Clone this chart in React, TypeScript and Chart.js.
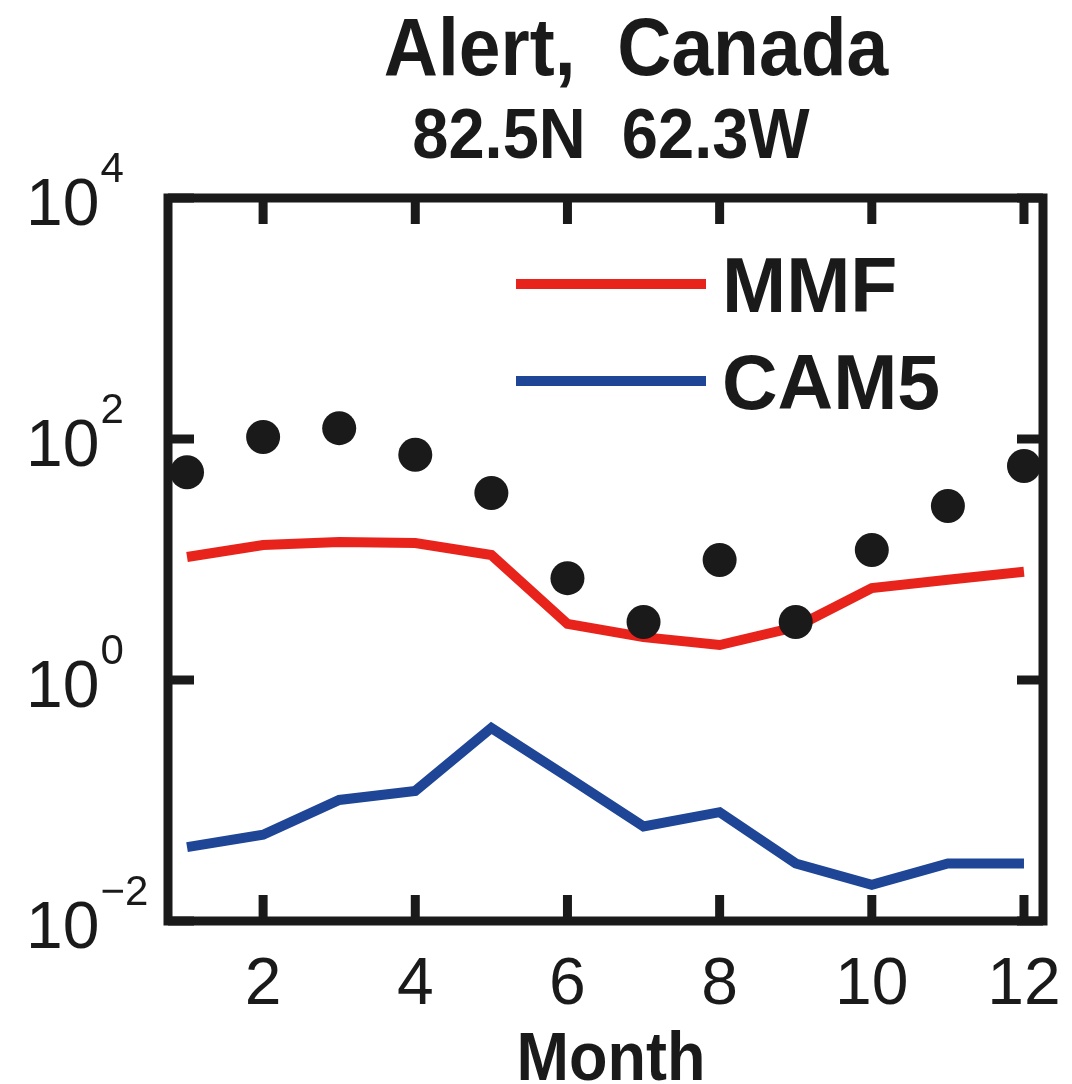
import React, { useEffect, useRef } from "react";
import { Chart, registerables } from "chart.js";

Chart.register(...registerables);

// ---- Data ----
const months = [1, 2, 3, 4, 5, 6, 7, 8, 9, 10, 11, 12];
const obsValues = [53, 104, 123, 74, 35.6, 7.0, 3.03, 9.9, 3.03, 12.0, 27.8, 59.7];
const mmfValues = [10.5, 13.2, 14.0, 13.7, 10.9, 2.92, 2.27, 1.95, 2.75, 5.8, 6.8, 7.9];
const cam5Values = [0.041, 0.052, 0.101, 0.12, 0.4, 0.157, 0.061, 0.08, 0.03, 0.02, 0.03, 0.03];
const xTicks = [2, 4, 6, 8, 10, 12];
const yTicks = [0.01, 1, 100, 10000];
const yTickExponents = ["\u22122", "0", "2", "4"];
const titleLine1 = "Alert,  Canada";
const titleLine2 = "82.5N  62.3W";
const xAxisTitle = "Month";
const seriesLabels = ["MMF", "CAM5"];

// ---- Styles ----
const INK = "#1a1a1a";
const RED = "#E8231B";
const BLUE = "#1E4596";
const FONT = '"Liberation Sans", Arial, Helvetica, sans-serif';

function drawText(
  ctx: CanvasRenderingContext2D,
  text: string,
  x: number,
  y: number,
  size: number,
  bold: boolean,
  align: CanvasTextAlign,
  sy = 1
) {
  ctx.save();
  ctx.font = `${bold ? "bold " : ""}${size}px ${FONT}`;
  ctx.fillStyle = INK;
  ctx.textAlign = align;
  ctx.textBaseline = "alphabetic";
  ctx.translate(x, y);
  ctx.scale(1, sy);
  ctx.fillText(text, 0, 0);
  ctx.restore();
}

const framePlugin = {
  id: "matlabFrame",
  afterDatasetsDraw(chart: any) {
    const { ctx, chartArea: a, scales } = chart;
    const xs = scales.x;
    const ys = scales.y;
    const line = (x1: number, y1: number, x2: number, y2: number) => {
      ctx.beginPath();
      ctx.moveTo(x1, y1);
      ctx.lineTo(x2, y2);
      ctx.stroke();
    };
    ctx.save();
    ctx.strokeStyle = INK;
    ctx.lineWidth = 9;
    ctx.lineCap = "butt";
    const L = 26;
    for (const v of xTicks) {
      const px = xs.getPixelForValue(v);
      line(px, a.bottom, px, a.bottom - L);
      line(px, a.top, px, a.top + L);
    }
    for (const v of yTicks) {
      const py = ys.getPixelForValue(v);
      line(a.left, py, a.left + L, py);
      line(a.right, py, a.right - L, py);
    }
    ctx.lineJoin = "miter";
    ctx.strokeRect(a.left, a.top, a.right - a.left, a.bottom - a.top);
    ctx.restore();

    // Legend (inside the axes, upper right)
    const legendItems = chart.data.datasets.filter((d: any) => d.showInLegend);
    const legendX1 = 516;
    const legendX2 = 706;
    const legendYs = [284, 381];
    legendItems.forEach((d: any, i: number) => {
      ctx.save();
      ctx.strokeStyle = d.borderColor;
      ctx.lineWidth = 10;
      ctx.lineCap = "butt";
      line(legendX1, legendYs[i], legendX2, legendYs[i]);
      ctx.restore();
      drawText(ctx, d.label, 722, legendYs[i] + 28, 77, true, "left", 1.0);
    });

    // X tick labels
    for (const v of xTicks) {
      const px = xs.getPixelForValue(v);
      drawText(ctx, String(v), px, a.bottom + 83, 66, false, "center");
    }
    // Y tick labels 10^n
    yTicks.forEach((v, i) => {
      const py = ys.getPixelForValue(v);
      const baseX = 26;
      drawText(ctx, "10", baseX, py + 27, 66, false, "left");
      ctx.save();
      ctx.font = `66px ${FONT}`;
      const w = ctx.measureText("10").width;
      ctx.restore();
      drawText(ctx, yTickExponents[i], baseX + w + 1, py - 16, 42, false, "left");
    });

    // Titles
    drawText(ctx, titleLine1, 636, 75, 75, true, "center", 1.08);
    drawText(ctx, titleLine2, 611, 158, 65, true, "center", 1.07);
    drawText(ctx, xAxisTitle, 611, 1080, 63, true, "center", 1.1);
  },
};

export default function App() {
  const canvasRef = useRef<HTMLCanvasElement | null>(null);

  useEffect(() => {
    const canvas = canvasRef.current;
    if (!canvas) return;
    const chart = new Chart(canvas, {
      type: "line",
      data: {
        datasets: [
          {
            label: "Obs",
            data: months.map((m, i) => ({ x: m, y: obsValues[i] })),
            showLine: false,
            pointRadius: 17,
            pointBackgroundColor: INK,
            pointBorderWidth: 0,
            borderColor: INK,
            order: 0,
            clip: false,
            showInLegend: false,
          } as any,
          {
            label: seriesLabels[0],
            data: months.map((m, i) => ({ x: m, y: mmfValues[i] })),
            borderColor: RED,
            borderWidth: 10,
            pointRadius: 0,
            tension: 0,
            fill: false,
            order: 1,
            clip: false,
            showInLegend: true,
          } as any,
          {
            label: seriesLabels[1],
            data: months.map((m, i) => ({ x: m, y: cam5Values[i] })),
            borderColor: BLUE,
            borderWidth: 10,
            pointRadius: 0,
            tension: 0,
            fill: false,
            order: 2,
            clip: false,
            showInLegend: true,
          } as any,
        ],
      },
      options: {
        responsive: false,
        animation: false,
        devicePixelRatio: 1,
        events: [],
        layout: { padding: { left: 168, top: 198, right: 29, bottom: 163 } },
        scales: {
          x: { type: "linear", min: 0.75, max: 12.25, display: false },
          y: { type: "logarithmic", min: 0.01, max: 10000, display: false },
        },
        plugins: {
          legend: { display: false },
          tooltip: { enabled: false },
          title: { display: false },
        },
      },
      plugins: [framePlugin],
    });
    return () => chart.destroy();
  }, []);

  return (
    <div style={{ position: "absolute", left: 0, top: 0, width: 1072, height: 1084, background: "#fff" }}>
      <canvas ref={canvasRef} width={1072} height={1084} style={{ width: 1072, height: 1084, display: "block" }} />
    </div>
  );
}
